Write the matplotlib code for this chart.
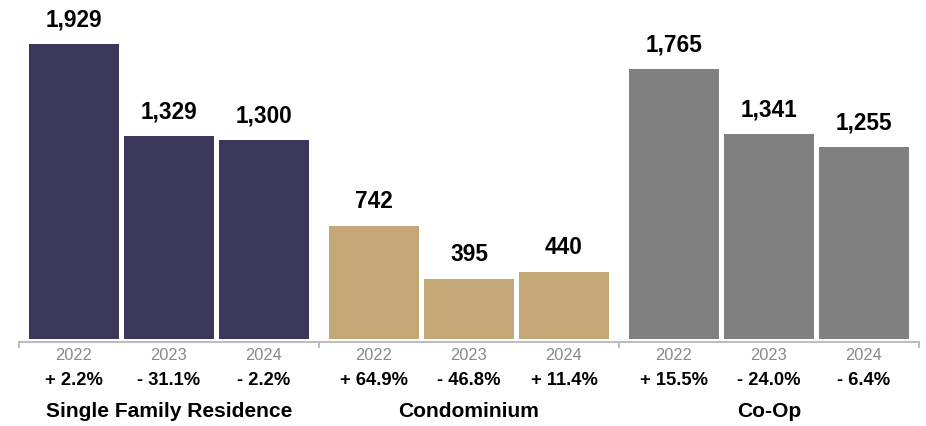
import numpy as np
import matplotlib.pyplot as plt

plt.rcParams['font.family'] = ['Liberation Sans', 'DejaVu Sans']

categories = ['Single Family Residence', 'Condominium', 'Co-Op']
years = ['2022', '2023', '2024']
values = [
    [1929, 1329, 1300],
    [742, 395, 440],
    [1765, 1341, 1255],
]
changes = [
    ['+ 2.2%', '- 31.1%', '- 2.2%'],
    ['+ 64.9%', '- 46.8%', '+ 11.4%'],
    ['+ 15.5%', '- 24.0%', '- 6.4%'],
]
colors = ['#3a375a', '#c3a777', '#808080']

fig = plt.figure(figsize=(9.26, 4.26), dpi=100)
# axes spans px 19..919 horizontally, bottom edge at px 339 from the top
ax = fig.add_axes([19 / 926, (426 - 339) / 426, 900 / 926, 339 / 426])

ymax = 2217
px = ymax / 339  # data units per pixel

for g, cat in enumerate(categories):
    for i, val in enumerate(values[g]):
        x = 0.55 + 3 * g + 0.95 * i
        ax.bar(x, val, width=0.9, color=colors[g], linewidth=0)
        ax.annotate(f'{val:,}', (x, val), xytext=(0, 12.5), textcoords='offset points',
                    ha='center', va='baseline', fontsize=16.3, fontweight='bold', color='black')
        ax.annotate(years[i], (x, 0), xycoords=('data', 'axes fraction'),
                    xytext=(0, -12.2), textcoords='offset points',
                    ha='center', va='center', fontsize=11.8, color='#888888')
        ax.annotate(changes[g][i], (x, 0), xycoords=('data', 'axes fraction'),
                    xytext=(0, -30.2), textcoords='offset points',
                    ha='center', va='center', fontsize=13.2, fontweight='bold', color='black')
    ax.annotate(cat, (1.5 + 3 * g, 0), xycoords=('data', 'axes fraction'),
                xytext=(0, -52), textcoords='offset points',
                ha='center', va='center', fontsize=15.1, fontweight='bold', color='black')

# baseline axis with group separator ticks
ax.plot([0, 9], [-2.5 * px, -2.5 * px], color='#bdbdbd', lw=1.5, clip_on=False,
        solid_capstyle='butt')
for xt in [0, 3, 6, 9]:
    ax.plot([xt, xt], [-2.5 * px, -8 * px], color='#bdbdbd', lw=1.5, clip_on=False)

ax.set_xlim(0, 9)
ax.set_ylim(0, ymax)
ax.axis('off')

fig.savefig('out.png', dpi=100)
